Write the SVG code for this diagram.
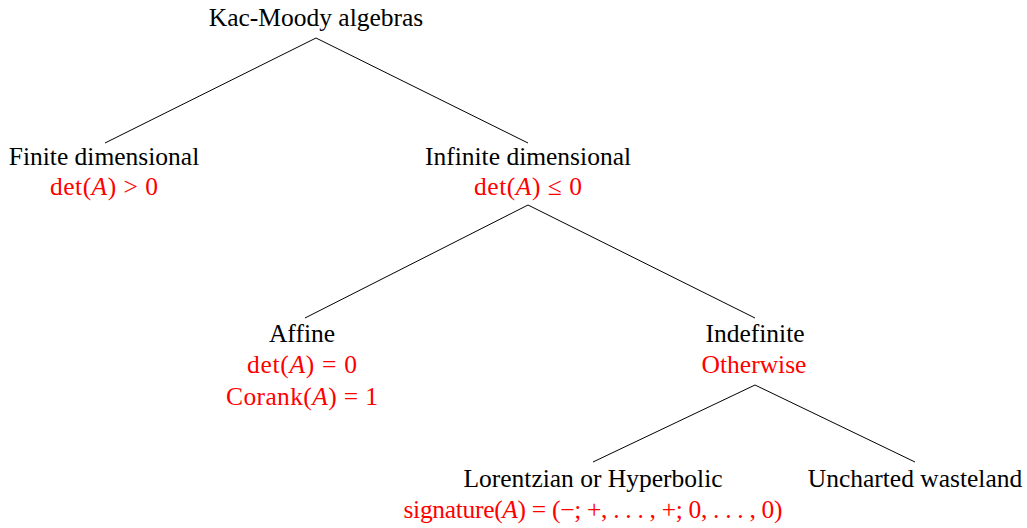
<svg xmlns="http://www.w3.org/2000/svg" width="1027" height="528" viewBox="0 0 1027 528">
<style>
text{font-family:"Liberation Serif","Times New Roman",serif;font-size:25.5px;text-anchor:middle;fill:#000}
.r{fill:#ff0000}
.i{font-style:italic}
.e line{stroke:#000;stroke-width:1}
</style>
<rect width="1027" height="528" fill="#fff"/>
<g class="e" id="connectors">
<line x1="316" y1="38" x2="105" y2="143"/>
<line x1="316" y1="38" x2="528" y2="143"/>
<line x1="528" y1="205" x2="305" y2="318"/>
<line x1="528" y1="205" x2="755" y2="318"/>
<line x1="755" y1="385" x2="593" y2="462"/>
<line x1="755" y1="385" x2="915" y2="462"/>
</g>
<g id="root"><text x="316" y="26">Kac-Moody algebras</text></g>
<g id="finite"><text x="104" y="165">Finite dimensional</text>
<text class="r" x="104" y="195" textLength="108" lengthAdjust="spacing">det(<tspan class="i">A</tspan>) &gt; 0</text></g>
<g id="infinite"><text x="528" y="165">Infinite dimensional</text>
<text class="r" x="528" y="195" textLength="108" lengthAdjust="spacing">det(<tspan class="i">A</tspan>) ≤ 0</text></g>
<g id="affine"><text x="302" y="342">Affine</text>
<text class="r" x="302" y="373" textLength="110" lengthAdjust="spacing">det(<tspan class="i">A</tspan>) = 0</text>
<text class="r" x="302" y="405" textLength="152" lengthAdjust="spacing">Corank(<tspan class="i">A</tspan>) = 1</text></g>
<g id="indefinite"><text x="755" y="342">Indefinite</text>
<text class="r" x="754" y="373">Otherwise</text></g>
<g id="lorentzian"><text x="593" y="487">Lorentzian or Hyperbolic</text>
<text class="r" x="593" y="518" textLength="379" lengthAdjust="spacing">signature(<tspan class="i">A</tspan>) = (−; +, . . . , +; 0, . . . , 0)</text></g>
<g id="uncharted"><text x="915" y="487">Uncharted wasteland</text></g>
</svg>
